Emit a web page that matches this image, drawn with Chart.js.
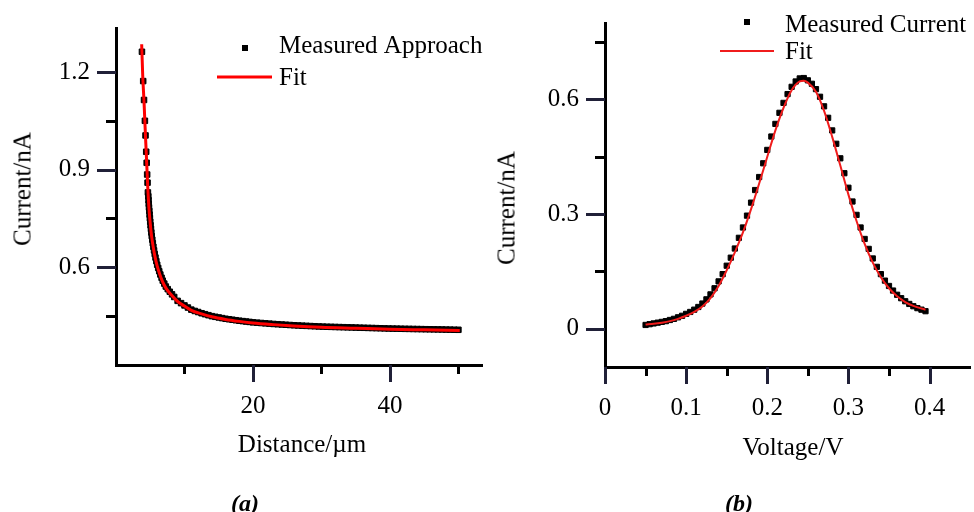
<!DOCTYPE html>
<html>
<head>
<meta charset="utf-8">
<script src="https://cdn.jsdelivr.net/npm/chart.js@4.4.1/dist/chart.umd.min.js"></script>
<style>
  html, body { margin: 0; padding: 0; background: #fff; }
  body { width: 974px; height: 512px; position: relative; overflow: hidden;
         font-family: 'Liberation Serif', 'Times New Roman', serif; color: #000; }
  canvas { position: absolute; top: 0; }
  .lbl { position: absolute; white-space: nowrap; font-size: 25px; line-height: 25px;
         transform: translate(-50%, -50%); }
  .rot { transform: translate(-50%, -50%) rotate(-90deg); }
  .cap { font-size: 24px; line-height: 24px; font-weight: bold; font-style: italic; }
</style>
</head>
<body>
<canvas id="ca" width="490" height="470" style="left:0px"></canvas>
<canvas id="cb" width="487" height="470" style="left:487px"></canvas>
<div class="lbl rot" style="left:22px;top:189px">Current/nA</div>
<div class="lbl" style="left:302px;top:443px">Distance/µm</div>
<div class="lbl rot" style="left:506px;top:208px">Current/nA</div>
<div class="lbl" style="left:793px;top:446px">Voltage/V</div>
<div class="lbl cap" style="left:245px;top:503px">(a)</div>
<div class="lbl cap" style="left:739px;top:503px">(b)</div>
<script>
// ---------------- Panel (a): approach curve ----------------
const approachDist = [3.79, 3.97, 4.09, 4.22, 4.31, 4.41, 4.48, 4.55, 4.61, 4.66,
  4.72, 4.755, 4.784, 4.82, 4.864, 4.908, 4.952, 4.996, 5.05, 5.105, 5.16, 5.221, 5.30, 5.379, 5.459,
  5.557, 5.655, 5.767, 5.889, 6.015, 6.163, 6.311, 6.473, 6.655, 6.825, 7.05, 7.275, 7.558, 7.853, 8.18,
  8.5, 9.0, 9.5, 10.0, 10.5, 11.0, 11.5, 12.0, 12.5, 13.0, 13.5, 14.0, 14.5, 15.0, 15.5, 16.0,
  16.5, 17.0, 17.5, 18.0, 18.5, 19.0, 19.5, 20.0, 20.6, 21.2, 21.8, 22.4, 23.0, 23.6, 24.2, 24.8,
  25.4, 26.0, 26.6, 27.2, 27.8, 28.4, 29.0, 29.6, 30.2, 30.8, 31.4, 32.0, 32.6, 33.2, 33.8, 34.4,
  35.0, 35.6, 36.2, 36.8, 37.4, 38.0, 38.6, 39.2, 39.8, 40.4, 41.0, 41.6, 42.2, 42.8, 43.4, 44.0,
  44.6, 45.2, 45.8, 46.4, 47.0, 47.6, 48.2, 48.8, 49.4, 50.0];
const approachCurrent = [1.262, 1.172, 1.114, 1.050, 1.005, 0.955, 0.921, 0.885, 0.860, 0.830,
  0.818, 0.806, 0.795, 0.784, 0.773, 0.762, 0.751, 0.740, 0.729, 0.718, 0.707, 0.696, 0.685, 0.674, 0.663,
  0.652, 0.641, 0.630, 0.619, 0.608, 0.598, 0.588, 0.578, 0.568, 0.559, 0.550, 0.541, 0.533, 0.525, 0.517,
  0.509, 0.497, 0.490, 0.483, 0.4765, 0.470, 0.466, 0.4627, 0.459, 0.456, 0.453, 0.450, 0.448, 0.446, 0.444, 0.442,
  0.4405, 0.439, 0.4375, 0.436, 0.4348, 0.4335, 0.4323, 0.431, 0.430, 0.429, 0.428, 0.427, 0.426, 0.4252, 0.4244, 0.4236,
  0.4228, 0.422, 0.4214, 0.4208, 0.4202, 0.4196, 0.419, 0.4184, 0.4179, 0.4175, 0.4172, 0.4168, 0.4164, 0.4161, 0.4157, 0.4154,
  0.415, 0.4146, 0.4143, 0.4139, 0.4136, 0.4132, 0.4128, 0.4125, 0.4121, 0.4118, 0.4116, 0.4114, 0.4111, 0.4109, 0.4106, 0.4104,
  0.4102, 0.4099, 0.4097, 0.4095, 0.4093, 0.4091, 0.4088, 0.4086, 0.4083, 0.4081];
const approachFitDist = [3.75, 3.9, 4.1, 4.25, 4.42, 4.63, 4.8, 5.0, 5.2, 5.45, 5.7, 6.0, 6.4, 6.8, 7.3, 8.0,
  9.0, 10, 11, 12.5, 14, 16, 18, 20, 23, 26, 30, 35, 40, 45, 50.2];
const approachFitCurrent = [1.285, 1.19, 1.105, 1.03, 0.95, 0.85, 0.785, 0.735, 0.695, 0.660, 0.632, 0.605, 0.578, 0.556, 0.536, 0.517,
  0.495, 0.481, 0.468, 0.457, 0.448, 0.440, 0.434, 0.429, 0.424, 0.420, 0.416, 0.413, 0.410, 0.408, 0.406];
const aXTicks = [20, 40];
const aXMinor = [10, 30, 50];
const aYTicks = [0.6, 0.9, 1.2];
const aYMinor = [0.45, 0.75, 1.05];

// ---------------- Panel (b): voltammogram ----------------
const voltage = [0.050, 0.055, 0.060, 0.065, 0.070, 0.075, 0.080, 0.085, 0.090, 0.095,
  0.100, 0.105, 0.110, 0.115, 0.120, 0.125, 0.130, 0.135, 0.140, 0.145,
  0.150, 0.155, 0.160, 0.165, 0.170, 0.175, 0.180, 0.185, 0.190, 0.195,
  0.200, 0.205, 0.210, 0.215, 0.220, 0.225, 0.230, 0.235, 0.240, 0.245,
  0.250, 0.255, 0.260, 0.265, 0.270, 0.275, 0.280, 0.285, 0.290, 0.295,
  0.300, 0.305, 0.310, 0.315, 0.320, 0.325, 0.330, 0.335, 0.340, 0.345,
  0.350, 0.355, 0.360, 0.365, 0.370, 0.375, 0.380, 0.385, 0.390, 0.395];
const measuredCurrent = [0.010, 0.012, 0.014, 0.016, 0.018, 0.020, 0.023, 0.026, 0.030, 0.034,
  0.039, 0.044, 0.050, 0.057, 0.066, 0.077, 0.090, 0.106, 0.124, 0.143,
  0.165, 0.186, 0.210, 0.238, 0.265, 0.296, 0.330, 0.363, 0.397, 0.433,
  0.468, 0.503, 0.536, 0.565, 0.591, 0.614, 0.633, 0.647, 0.655, 0.656,
  0.650, 0.641, 0.627, 0.607, 0.582, 0.552, 0.519, 0.484, 0.446, 0.407,
  0.369, 0.333, 0.298, 0.265, 0.235, 0.209, 0.184, 0.162, 0.143, 0.126,
  0.112, 0.100, 0.089, 0.080, 0.072, 0.065, 0.059, 0.054, 0.050, 0.046];
const fitVoltage = [0.050, 0.060, 0.070, 0.080, 0.090, 0.100, 0.110, 0.120, 0.130, 0.140,
  0.150, 0.160, 0.170, 0.180, 0.190, 0.200, 0.210, 0.220, 0.230, 0.240, 0.245,
  0.250, 0.260, 0.270, 0.280, 0.290, 0.300, 0.310, 0.320, 0.330, 0.340,
  0.350, 0.360, 0.370, 0.380, 0.390, 0.395];
const fitCurrent = [0.011, 0.013, 0.016, 0.020, 0.026, 0.034, 0.044, 0.058, 0.080, 0.112,
  0.153, 0.200, 0.252, 0.313, 0.380, 0.450, 0.519, 0.578, 0.624, 0.647, 0.649,
  0.644, 0.620, 0.570, 0.502, 0.427, 0.351, 0.282, 0.222, 0.173, 0.135,
  0.106, 0.085, 0.070, 0.060, 0.053, 0.050];
const bXTicks = [0, 0.1, 0.2, 0.3, 0.4];
const bXMinor = [0.05, 0.15, 0.25, 0.35];
const bYTicks = [0, 0.3, 0.6];
const bYMinor = [0.15, 0.45, 0.75];

const FONT = "'Liberation Serif', 'Times New Roman', serif";
Chart.defaults.font.family = FONT;
Chart.defaults.color = '#000';

function pts(xs, ys) { return xs.map((x, i) => ({ x: x, y: ys[i] })); }

// tick marks and the in-plot legend
function extrasPlugin(cfg) {
  return {
    id: 'extras',
    afterDraw(chart) {
      const ctx = chart.ctx, ca = chart.chartArea;
      const xs = chart.scales.x, ys = chart.scales.y;
      ctx.save();
      const xTick = (v, len, col) => {
        const px = Math.round(xs.getPixelForValue(v)) - 1;
        ctx.fillStyle = col;
        ctx.fillRect(px, Math.round(ca.bottom), 3, len);
      };
      const yTick = (v, len, col) => {
        const py = Math.round(ys.getPixelForValue(v)) - 1;
        ctx.fillStyle = col;
        ctx.fillRect(Math.round(ca.left) - len, py, len, 3);
      };
      cfg.xMinor.forEach(v => xTick(v, 9, '#000'));
      cfg.yMinor.forEach(v => yTick(v, 10, '#000'));
      cfg.xMajor.forEach(v => xTick(v, 17, '#202038'));
      cfg.yMajor.forEach(v => yTick(v, 19, '#202038'));
      // legend
      const L = cfg.legend;
      ctx.fillStyle = '#000';
      ctx.fillRect(L.sqX - L.sq / 2, L.sqY - L.sq / 2, L.sq, L.sq);
      ctx.strokeStyle = L.lineColor;
      ctx.lineWidth = L.lineWidth;
      ctx.beginPath(); ctx.moveTo(L.lineX1, L.lineY); ctx.lineTo(L.lineX2, L.lineY); ctx.stroke();
      ctx.font = '25px ' + FONT;
      ctx.textBaseline = 'alphabetic';
      ctx.textAlign = 'left';
      ctx.fillStyle = '#000';
      ctx.fillText(L.text1, L.textX, L.base1);
      ctx.fillText(L.text2, L.textX, L.base2);
      ctx.restore();
    }
  };
}

function axis(min, max, ticks, size, isX) {
  return {
    type: 'linear', min: min, max: max,
    position: isX ? 'bottom' : 'left',
    afterBuildTicks: s => { s.ticks = ticks.map(v => ({ value: v })); },
    afterFit: s => { if (isX) s.height = size; else s.width = size; },
    grid: { drawOnChartArea: false, drawTicks: true, tickLength: isX ? 17 : 19, color: 'rgba(0,0,0,0)', lineWidth: 3 },
    border: { display: true, color: '#000', width: 3 },
    ticks: { font: { size: 25, family: FONT }, color: '#000', padding: isX ? 9 : 7,
             maxRotation: 0, autoSkip: false, callback: v => String(v) }
  };
}

const common = {
  responsive: false, animation: false, events: [],
  plugins: { legend: { display: false }, tooltip: { enabled: false } }
};

new Chart(document.getElementById('ca'), {
  type: 'scatter',
  data: { datasets: [
    { label: 'Fit', data: pts(approachFitDist, approachFitCurrent), showLine: true,
      borderColor: '#ff0000', borderWidth: 3, pointRadius: 0, cubicInterpolationMode: 'monotone', order: 0 },
    { label: 'Measured Approach', data: pts(approachDist, approachCurrent), showLine: false,
      pointStyle: 'rect', pointRadius: 3.9, pointBorderWidth: 1, backgroundColor: '#000', borderColor: '#000', order: 1 }
  ]},
  options: Object.assign({}, common, {
    layout: { padding: { top: 28, left: 0, right: 9, bottom: 0 } },
    scales: { x: axis(0, 53.3, aXTicks, 105, true), y: axis(0.3, 1.335, aYTicks, 116, false) }
  }),
  plugins: [extrasPlugin({ xMajor: aXTicks, xMinor: aXMinor, yMajor: aYTicks, yMinor: aYMinor, legend: {
    sqX: 245, sqY: 48, sq: 6, lineX1: 217, lineX2: 272, lineY: 77, lineColor: '#ff0000', lineWidth: 3,
    textX: 279, base1: 53, base2: 85, text1: 'Measured Approach', text2: 'Fit' } })]
});

new Chart(document.getElementById('cb'), {
  type: 'scatter',
  data: { datasets: [
    { label: 'Fit', data: pts(fitVoltage, fitCurrent), showLine: true,
      borderColor: '#f01c1c', borderWidth: 2, pointRadius: 0, cubicInterpolationMode: 'monotone', order: 0 },
    { label: 'Measured Current', data: pts(voltage, measuredCurrent), showLine: false,
      pointStyle: 'rect', pointRadius: 3.7, pointBorderWidth: 1, backgroundColor: '#000', borderColor: '#000', order: 1 }
  ]},
  options: Object.assign({}, common, {
    layout: { padding: { top: 23, left: 0, right: 0, bottom: 0 } },
    scales: { x: axis(0, 0.4486, bXTicks, 103, true), y: axis(-0.1, 0.8, bYTicks, 118, false) }
  }),
  plugins: [extrasPlugin({ xMajor: bXTicks, xMinor: bXMinor, yMajor: bYTicks, yMinor: bYMinor, legend: {
    sqX: 260, sqY: 22, sq: 6, lineX1: 233, lineX2: 287, lineY: 51, lineColor: '#f01c1c', lineWidth: 2,
    textX: 298, base1: 32, base2: 59, text1: 'Measured Current', text2: 'Fit' } })]
});
</script>
</body>
</html>
